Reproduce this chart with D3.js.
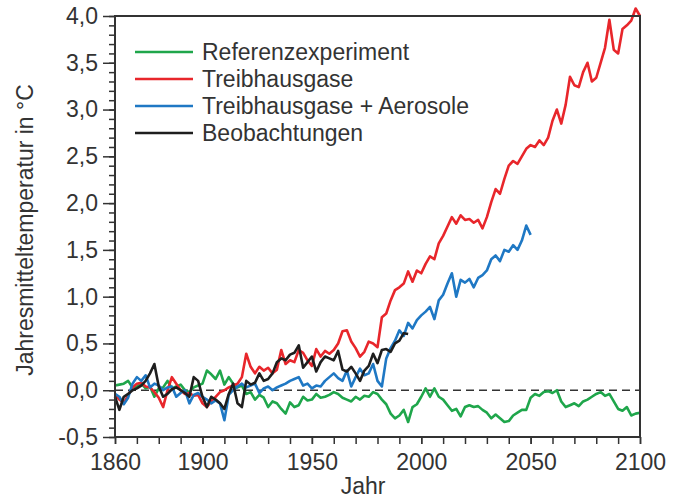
<!DOCTYPE html>
<html>
<head>
<meta charset="utf-8">
<script src="https://cdn.jsdelivr.net/npm/d3@7"></script>
<style>
  body { margin: 0; background: #fff; }
  text { font-family: "Liberation Sans", Arial, Helvetica, sans-serif; fill: #333; }
</style>
</head>
<body>
<div id="chart"></div>
<script>
// years every 2nd year, 1860 .. 2100
var firstYear = 1860;
var yearStep = 2;

var referenz = [0.05,0.06,0.07,0.10,0.03,0.04,0.07,0.02,0.04,-0.07,0.02,0.03,0.10,0.02,0.04,0.06,0.00,-0.02,0.03,0.05,
  0.07,0.21,0.17,0.12,0.21,0.06,0.14,0.07,0.03,0.05,-0.04,-0.02,-0.10,-0.05,-0.08,-0.18,-0.12,-0.14,-0.20,-0.25,
  -0.13,-0.18,-0.16,-0.07,-0.11,-0.10,-0.04,-0.08,-0.07,-0.05,-0.02,-0.04,-0.08,-0.10,-0.12,-0.07,-0.10,-0.06,-0.07,-0.02,
  -0.04,-0.10,-0.15,-0.25,-0.30,-0.27,-0.21,-0.34,-0.18,-0.15,-0.07,0.02,-0.07,0.02,-0.07,-0.10,-0.16,-0.22,-0.20,-0.28,
  -0.18,-0.16,-0.18,-0.17,-0.21,-0.24,-0.30,-0.26,-0.30,-0.34,-0.33,-0.27,-0.24,-0.21,-0.21,-0.08,-0.04,-0.06,-0.02,-0.01,
  -0.03,0.00,-0.12,-0.18,-0.16,-0.14,-0.17,-0.12,-0.10,-0.07,-0.04,-0.02,-0.06,-0.04,-0.12,-0.20,-0.22,-0.18,-0.27,-0.25,-0.24];

var treibhaus = [-0.05,-0.10,-0.14,-0.05,0.03,0.07,0.08,0.04,0.03,-0.02,-0.08,-0.18,0.00,0.14,0.07,0.00,-0.04,-0.03,-0.06,-0.05,
  -0.14,-0.18,-0.12,-0.07,-0.02,0.00,0.03,0.05,0.07,0.14,0.39,0.25,0.18,0.25,0.21,0.24,0.18,0.22,0.43,0.28,
  0.32,0.30,0.43,0.40,0.32,0.26,0.44,0.36,0.42,0.39,0.43,0.50,0.63,0.64,0.52,0.45,0.36,0.41,0.52,0.50,
  0.46,0.78,0.82,0.96,1.07,1.10,1.14,1.27,1.16,1.28,1.25,1.35,1.43,1.40,1.57,1.65,1.75,1.85,1.78,1.87,
  1.82,1.83,1.79,1.82,1.73,1.85,2.01,2.15,2.10,2.26,2.40,2.45,2.42,2.50,2.58,2.62,2.60,2.67,2.62,2.70,
  2.88,3.00,2.85,3.05,3.35,3.26,3.24,3.40,3.50,3.30,3.34,3.50,3.66,3.96,3.64,3.60,3.86,3.90,3.95,4.08,4.00];

var aerosole = [-0.04,-0.07,-0.15,-0.08,0.07,0.14,0.10,0.16,0.03,0.07,0.05,0.00,0.03,0.04,-0.07,-0.03,0.00,-0.14,-0.05,-0.03,
  -0.07,-0.10,-0.14,-0.11,-0.14,-0.32,-0.05,0.00,0.04,0.07,0.03,0.05,0.07,-0.03,0.02,0.04,0.00,0.03,0.05,0.07,
  0.10,0.12,0.14,0.05,0.07,0.02,0.05,0.04,0.10,0.14,0.18,0.13,0.10,0.21,0.04,0.14,0.23,0.16,0.18,0.28,
  0.10,0.04,0.34,0.45,0.53,0.64,0.58,0.72,0.66,0.75,0.80,0.84,0.89,0.76,0.96,1.02,1.14,1.25,1.00,1.18,
  1.15,1.19,1.10,1.20,1.23,1.28,1.40,1.44,1.38,1.50,1.48,1.55,1.50,1.60,1.76,1.66];

var beobachtung = [-0.07,-0.21,-0.07,-0.04,0.00,0.02,0.05,0.10,0.18,0.28,0.04,-0.07,-0.04,0.01,0.03,0.00,-0.03,-0.07,0.14,0.10,
  -0.07,-0.18,-0.07,-0.10,-0.14,-0.20,-0.04,0.07,-0.14,-0.18,0.10,0.06,0.08,0.18,0.10,0.12,0.18,0.30,0.34,0.32,
  0.38,0.40,0.48,0.24,0.30,0.36,0.20,0.30,0.36,0.34,0.32,0.42,0.22,0.20,0.25,0.18,0.10,0.21,0.26,0.39,
  0.29,0.43,0.44,0.41,0.50,0.53,0.61,0.60];

var seriesNames = ["Referenzexperiment", "Treibhausgase", "Treibhausgase + Aerosole", "Beobachtungen"];
var seriesColors = ["#1fa64b", "#e8262b", "#1f78c4", "#1e1e1e"];
var seriesValues = [referenz, treibhaus, aerosole, beobachtung];

var yTicks = [-0.5, 0, 0.5, 1, 1.5, 2, 2.5, 3, 3.5, 4];
var xTicks = [1860, 1900, 1950, 2000, 2050, 2100];

var W = 678, H = 499;
var mLeft = 115, mRight = 640, mTop = 16, mBottom = 437;
var fontSize = "23px";

var x = d3.scaleLinear().domain([1860, 2100]).range([mLeft, mRight]);
var y = d3.scaleLinear().domain([-0.5, 4]).range([mBottom, mTop]);

var svg = d3.select("#chart").append("svg")
  .attr("width", W).attr("height", H);

var fmt = function(d) { return d3.format(".1f")(d).replace(".", ",").replace("−", "-"); };

// minor ticks on y every 0.1
var yAxisMinor = d3.axisLeft(y).tickValues(d3.range(-5, 41, 1).map(d => d / 10)).tickSize(6).tickFormat("");
svg.append("g").attr("transform", "translate(" + mLeft + ",0)").call(yAxisMinor)
  .call(g => g.select(".domain").remove())
  .selectAll("line").attr("stroke", "#333").attr("stroke-width", 1.5);

var yAxis = d3.axisLeft(y).tickValues(yTicks).tickSize(12).tickPadding(5).tickFormat(fmt);
svg.append("g").attr("transform", "translate(" + mLeft + ",0)").call(yAxis)
  .call(g => g.select(".domain").remove())
  .call(g => g.selectAll("line").attr("stroke", "#333").attr("stroke-width", 1.5))
  .call(g => g.selectAll("text").style("font-size", fontSize).attr("fill", "#333")
    .attr("font-family", "Liberation Sans, Arial, sans-serif"));

var xAxisMinor = d3.axisBottom(x).tickValues(d3.range(1860, 2101, 10)).tickSize(7).tickFormat("");
svg.append("g").attr("transform", "translate(0," + mBottom + ")").call(xAxisMinor)
  .call(g => g.select(".domain").remove())
  .selectAll("line").attr("stroke", "#333").attr("stroke-width", 1.5);

var xAxis = d3.axisBottom(x).tickValues(xTicks).tickSize(7).tickPadding(10).tickFormat(d3.format("d"));
svg.append("g").attr("transform", "translate(0," + mBottom + ")").call(xAxis)
  .call(g => g.select(".domain").remove())
  .call(g => g.selectAll("line").attr("stroke", "#333").attr("stroke-width", 1.5))
  .call(g => g.selectAll("text").style("font-size", fontSize).attr("fill", "#333")
    .attr("font-family", "Liberation Sans, Arial, sans-serif"));

// zero line
svg.append("line")
  .attr("x1", mLeft).attr("x2", mRight).attr("y1", y(0)).attr("y2", y(0))
  .attr("stroke", "#333").attr("stroke-width", 1.5).attr("stroke-dasharray", "8,5");

// series
var line = d3.line()
  .x((d, i) => x(firstYear + i * yearStep))
  .y(d => y(d));

seriesValues.forEach(function(vals, k) {
  svg.append("path")
    .datum(vals)
    .attr("fill", "none")
    .attr("stroke", seriesColors[k])
    .attr("stroke-width", 2.6)
    .attr("stroke-linejoin", "round")
    .attr("d", line);
});

// frame
svg.append("path")
  .attr("d", "M" + mLeft + "," + mTop + "H" + mRight + "V" + mBottom + "H" + mLeft + "Z")
  .attr("fill", "none").attr("stroke", "#333").attr("stroke-width", 2);

// legend
var legend = svg.append("g");
seriesNames.forEach(function(name, k) {
  var ly = 52 + k * 27;
  legend.append("line")
    .attr("x1", 135).attr("x2", 193).attr("y1", ly).attr("y2", ly)
    .attr("stroke", seriesColors[k]).attr("stroke-width", 2.4);
  legend.append("text")
    .attr("x", 202).attr("y", ly + 8)
    .style("font-size", fontSize)
    .text(name);
});

// axis titles
svg.append("text")
  .attr("x", 363).attr("y", 494)
  .attr("text-anchor", "middle")
  .style("font-size", fontSize)
  .text("Jahr");

svg.append("text")
  .attr("transform", "translate(33,230) rotate(-90)")
  .attr("text-anchor", "middle")
  .style("font-size", fontSize)
  .text("Jahresmitteltemperatur in °C");
</script>
</body>
</html>
